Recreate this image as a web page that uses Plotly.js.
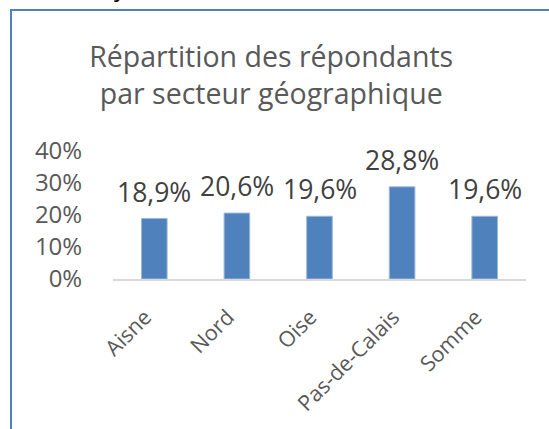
<!DOCTYPE html>
<html>
<head>
<meta charset="utf-8">
<script src="https://cdn.plot.ly/plotly-3.0.1.min.js"></script>
<style>
  html, body { margin: 0; padding: 0; background: #fff; }
  #wrap { position: relative; width: 549px; height: 429px; overflow: hidden; }
  #chart { position: absolute; left: 0; top: 0; width: 549px; height: 429px; }
  #frame { position: absolute; left: 10px; top: 9px; width: 600px; height: 500px;
           border-left: 2px solid #4F81BD; border-top: 2px solid #4F81BD; pointer-events: none; }
</style>
</head>
<body>
<div id="wrap">
  <div id="chart"></div>
  <div id="frame"></div>
</div>
<script>
const categories = ["Aisne", "Nord", "Oise", "Pas-de-Calais", "Somme"];
const values = [0.189, 0.206, 0.196, 0.288, 0.196];
const valueLabels = ["18,9%", "20,6%", "19,6%", "28,8%", "19,6%"];
const yTickValues = [0, 0.1, 0.2, 0.3, 0.4];
const yTickLabels = ["0%", "10%", "20%", "30%", "40%"];
const titleText = "Répartition des répondants<br>par secteur géographique";

const FONT = "Open Sans, Noto Sans, sans-serif";

const trace = {
  type: "bar",
  x: categories,
  y: values,
  width: 0.31,
  marker: { color: "#4F81BD", line: { color: "#9DB7DA", width: 1 } },
  hoverinfo: "none"
};

const annotations = categories.map((c, i) => ({
  x: c, y: values[i], xref: "x", yref: "y",
  text: valueLabels[i], showarrow: false,
  yanchor: "bottom", yshift: 7,
  font: { family: FONT, size: 26.5, color: "#404040" }
}));
annotations.push({
  xref: "paper", yref: "paper", x: 0.017, y: 2.14, yanchor: "bottom", xanchor: "center",
  text: "y", showarrow: false, font: { family: FONT, size: 24, color: "#000" }
});

const layout = {
  width: 549, height: 429,
  margin: { l: 113, r: 23, t: 151, b: 150, pad: 0 },
  paper_bgcolor: "#fff", plot_bgcolor: "#fff",
  showlegend: false,
  title: {
    text: titleText,
    xref: "container", yref: "container",
    x: 0.494, xanchor: "center",
    y: 0.843, yanchor: "top",
    font: { family: FONT, size: 28.5, color: "#595959" }
  },
  xaxis: {
    type: "category",
    tickangle: -45,
    tickfont: { family: FONT, size: 21.5, color: "#595959" },
    showline: true, linecolor: "#D9D9D9", linewidth: 2,
    ticks: "outside", ticklen: 15, tickcolor: "rgba(0,0,0,0)",
    ticklabelshift: -9,
    showgrid: false, zeroline: false
  },
  yaxis: {
    range: [0, 0.4],
    tickvals: yTickValues, ticktext: yTickLabels,
    tickfont: { family: FONT, size: 24, color: "#595959" },
    ticks: "outside", ticklen: 25, tickcolor: "rgba(0,0,0,0)",
    showgrid: false, zeroline: false, showline: false,
    automargin: false
  },
  annotations: annotations
};

Plotly.newPlot("chart", [trace], layout, { displayModeBar: false, staticPlot: true });
</script>
</body>
</html>
